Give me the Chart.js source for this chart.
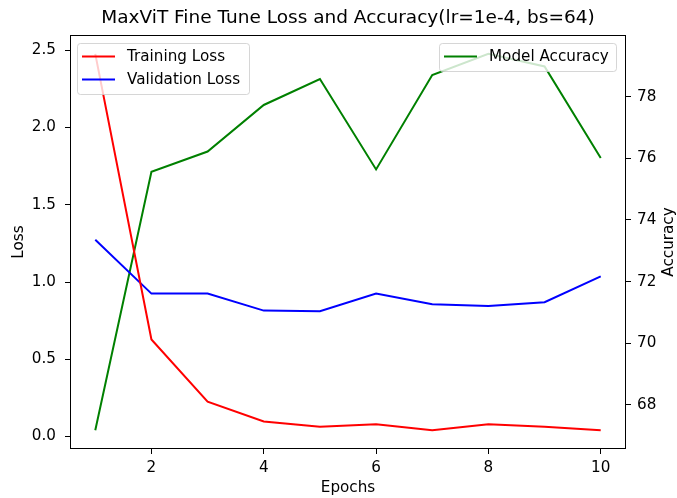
<!DOCTYPE html>
<html>
<head>
<meta charset="utf-8">
<script src="https://cdn.jsdelivr.net/npm/chart.js@4.4.1/dist/chart.umd.min.js"></script>
<style>
  html, body { margin: 0; padding: 0; background: #fff; }
  #chart { display: block; }
</style>
</head>
<body>
<canvas id="chart" width="677" height="498"></canvas>
<script>
// Values
const epochs = [1, 2, 3, 4, 5, 6, 7, 8, 9, 10];
const trainingLoss = [2.477, 0.628, 0.226, 0.097, 0.063, 0.080, 0.041, 0.080, 0.063, 0.041];
const validationLoss = [1.274, 0.925, 0.925, 0.815, 0.811, 0.925, 0.856, 0.845, 0.869, 1.037];
const modelAccuracy = [67.18, 75.56, 76.22, 77.73, 78.57, 75.64, 78.70, 79.39, 78.98, 76.01];

const epochTicks = [2, 4, 6, 8, 10];
const lossTicks = [0, 0.5, 1.0, 1.5, 2.0, 2.5];
const accuracyTicks = [68, 70, 72, 74, 76, 78];

const FONT = 'DejaVu Sans';
const TICK_SIZE = 15.2;
const TITLE_SIZE = 18.5;

function toPoints(ys) {
    return epochs.map((x, i) => ({ x: x, y: ys[i] }));
}

function fixedTicks(values) {
    return function(scale) {
        scale.ticks = values.map(v => ({ value: v }));
    };
}

const tickGrid = {
    display: true,
    drawOnChartArea: false,
    drawTicks: true,
    tickLength: 5,
    color: '#000',
    lineWidth: 1
};

// matplotlib-like frame, title, right label and in-axes legends
const mplDecor = {
    id: 'mplDecor',
    afterDatasetsDraw(chart) {
        const ctx = chart.ctx;
        const a = chart.chartArea;
        ctx.save();
        ctx.strokeStyle = '#000';
        ctx.lineWidth = 1;
        ctx.strokeRect(Math.round(a.left) + 0.5, Math.round(a.top) + 0.5,
            Math.round(a.right - a.left) - 1, Math.round(a.bottom - a.top) - 1);

        // title
        ctx.fillStyle = '#000';
        ctx.font = TITLE_SIZE + 'px "' + FONT + '"';
        ctx.textAlign = 'center';
        ctx.textBaseline = 'middle';
        ctx.fillText('MaxViT Fine Tune Loss and Accuracy(lr=1e-4, bs=64)', (a.left + a.right) / 2, 18);

        // right axis label, reads bottom to top like matplotlib
        ctx.save();
        ctx.translate(669, (a.top + a.bottom) / 2);
        ctx.rotate(-Math.PI / 2);
        ctx.font = TICK_SIZE + 'px "' + FONT + '"';
        ctx.fillText('Accuracy', 0, 0);
        ctx.restore();

        drawLegend(ctx, a.left + 7, a.top + 8, 172, 51, [
            { label: 'Training Loss', color: 'red' },
            { label: 'Validation Loss', color: 'blue' }
        ]);
        drawLegend(ctx, a.right - 187, a.top + 8, 177, 28, [
            { label: 'Model Accuracy', color: 'green' }
        ]);
        ctx.restore();
    }
};

function drawLegend(ctx, x, y, w, h, items) {
    ctx.save();
    ctx.beginPath();
    ctx.roundRect(x + 0.5, y + 0.5, w, h, 3);
    ctx.fillStyle = 'rgba(255,255,255,0.8)';
    ctx.fill();
    ctx.strokeStyle = 'rgba(204,204,204,0.8)';
    ctx.lineWidth = 1;
    ctx.stroke();
    ctx.font = TICK_SIZE + 'px "' + FONT + '"';
    ctx.textAlign = 'left';
    ctx.textBaseline = 'middle';
    items.forEach((item, i) => {
        const cy = y + 13.5 + i * 23;
        ctx.beginPath();
        ctx.moveTo(x + 5, cy);
        ctx.lineTo(x + 38, cy);
        ctx.strokeStyle = item.color;
        ctx.lineWidth = 2;
        ctx.stroke();
        ctx.fillStyle = '#000';
        ctx.fillText(item.label, x + 50, cy + 1);
    });
    ctx.restore();
}

const ctx = document.getElementById('chart').getContext('2d');
new Chart(ctx, {
    type: 'line',
    data: {
        datasets: [
            { label: 'Training Loss', data: toPoints(trainingLoss), borderColor: 'red', yAxisID: 'y' },
            { label: 'Validation Loss', data: toPoints(validationLoss), borderColor: 'blue', yAxisID: 'y' },
            { label: 'Model Accuracy', data: toPoints(modelAccuracy), borderColor: 'green', yAxisID: 'y1' }
        ]
    },
    options: {
        responsive: false,
        animation: false,
        events: [],
        layout: { padding: { top: 35, left: 0, right: 0, bottom: 0 } },
        elements: {
            line: { borderWidth: 2, tension: 0, fill: false },
            point: { radius: 0 }
        },
        plugins: {
            legend: { display: false },
            title: { display: false },
            tooltip: { enabled: false }
        },
        scales: {
            x: {
                type: 'linear',
                min: 0.55,
                max: 10.45,
                afterBuildTicks: fixedTicks(epochTicks),
                afterFit: s => { s.height = 49; },
                grid: tickGrid,
                border: { display: false },
                ticks: {
                    color: '#000',
                    padding: 5,
                    font: { family: FONT, size: TICK_SIZE },
                    maxRotation: 0,
                    callback: v => String(v)
                },
                title: {
                    display: true,
                    text: 'Epochs',
                    color: '#000',
                    font: { family: FONT, size: TICK_SIZE, lineHeight: 1 },
                    padding: { top: 0, bottom: 2 }
                }
            },
            y: {
                type: 'linear',
                position: 'left',
                min: -0.0808,
                max: 2.599,
                afterBuildTicks: fixedTicks(lossTicks),
                afterFit: s => { s.width = 70; },
                grid: tickGrid,
                border: { display: false },
                ticks: {
                    color: '#000',
                    padding: 9,
                    font: { family: FONT, size: TICK_SIZE },
                    callback: v => v.toFixed(1)
                },
                title: {
                    display: true,
                    text: 'Loss',
                    color: '#000',
                    font: { family: FONT, size: TICK_SIZE, lineHeight: 1 },
                    padding: { top: 11, bottom: 0 }
                }
            },
            y1: {
                type: 'linear',
                position: 'right',
                min: 66.57,
                max: 80.0,
                afterBuildTicks: fixedTicks(accuracyTicks),
                afterFit: s => { s.width = 51; },
                grid: tickGrid,
                border: { display: false },
                ticks: {
                    color: '#000',
                    padding: 6,
                    font: { family: FONT, size: TICK_SIZE },
                    callback: v => String(v)
                },
                title: { display: false }
            }
        }
    },
    plugins: [mplDecor]
});
</script>
</body>
</html>
